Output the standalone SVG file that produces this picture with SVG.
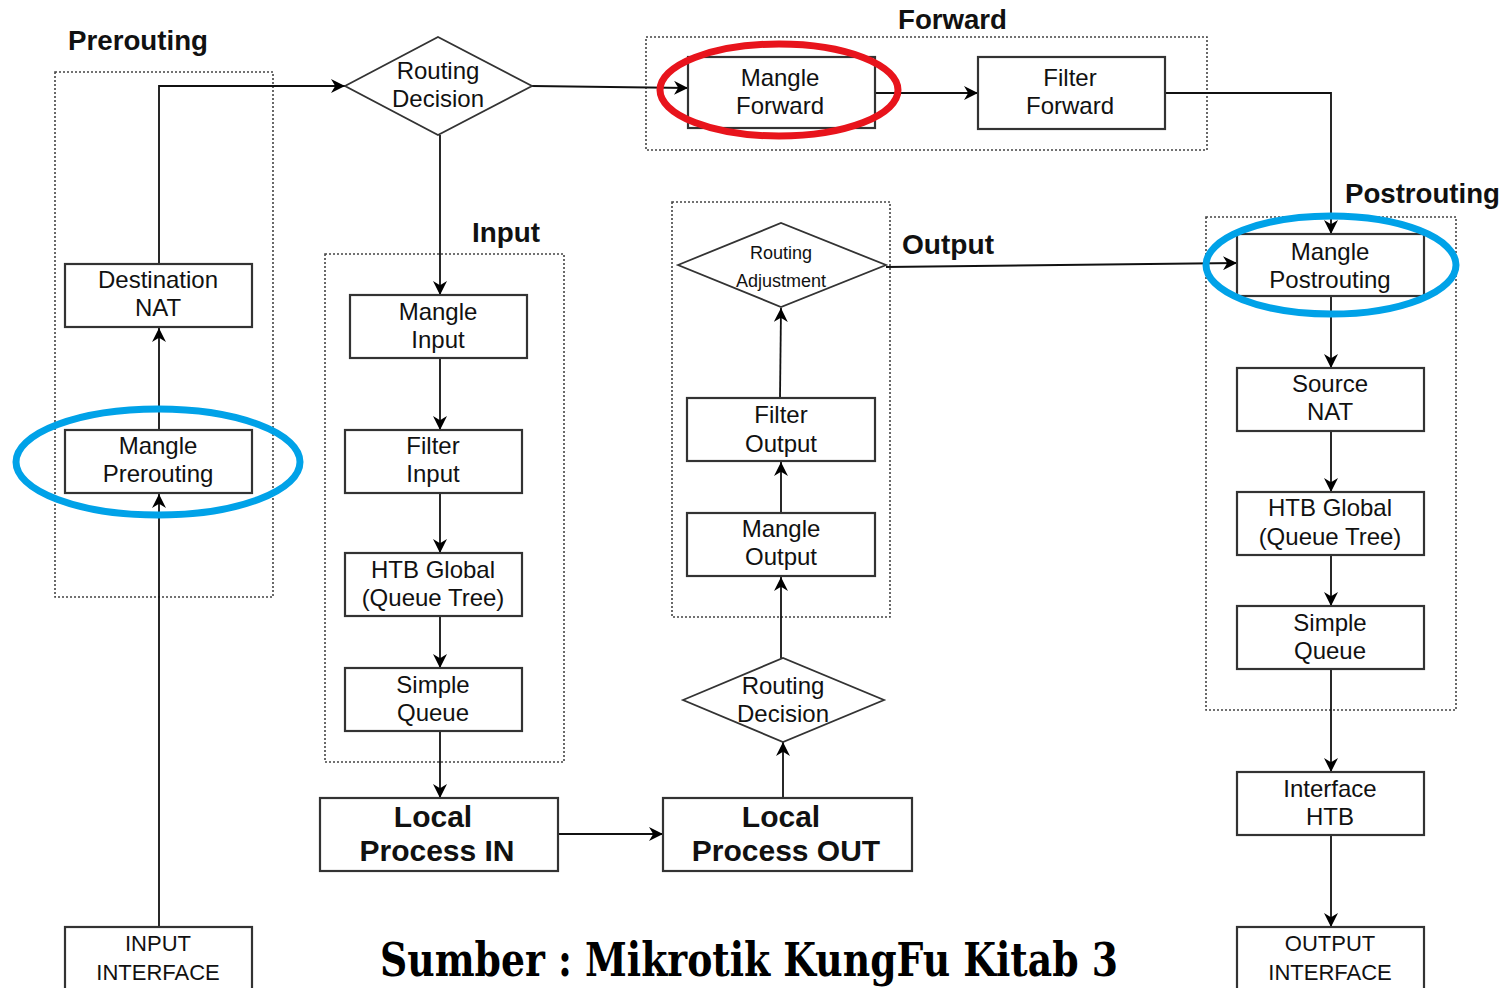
<svg xmlns="http://www.w3.org/2000/svg" width="1509" height="988" viewBox="0 0 1509 988">
<defs>
<marker id="ah" viewBox="0 0 10 10" refX="10" refY="5" markerWidth="14" markerHeight="14" markerUnits="userSpaceOnUse" orient="auto">
<path d="M0,0 L10,5 L0,10 L3,5 z" fill="#000"/>
</marker>
<style>
.box{fill:#fff;stroke:#333;stroke-width:2.2}
.dia{fill:#fff;stroke:#333;stroke-width:1.8}
.grp{fill:none;stroke:#444;stroke-width:1.6;stroke-dasharray:2,2}
.t{font-family:"Liberation Sans",Arial,sans-serif;font-size:24px;fill:#111;text-anchor:middle}
.s{font-size:22px}
.big{font-family:"Liberation Sans",Arial,sans-serif;font-size:30px;font-weight:bold;fill:#111;text-anchor:middle}
.lbl{font-family:"Liberation Sans",Arial,sans-serif;font-size:27px;font-weight:bold;fill:#111}
.c{fill:none;stroke:#111;stroke-width:1.8;marker-end:url(#ah)}
.blue{fill:none;stroke:#00a2e8;stroke-width:7}
.red{fill:none;stroke:#e8141c;stroke-width:7}
</style>
</defs>
<rect width="1509" height="988" fill="#fff"/>

<g id="groups">
<rect class="grp" x="55" y="72" width="218" height="525"/>
<rect class="grp" x="646" y="37" width="561" height="113"/>
<rect class="grp" x="325" y="254" width="239" height="508"/>
<rect class="grp" x="672" y="202" width="218" height="415"/>
<rect class="grp" x="1206" y="217" width="250" height="493"/>
<text class="lbl" x="68" y="50" textLength="140" lengthAdjust="spacingAndGlyphs">Prerouting</text>
<text class="lbl" x="898" y="29" textLength="109" lengthAdjust="spacingAndGlyphs">Forward</text>
<text class="lbl" x="472" y="242" textLength="68" lengthAdjust="spacingAndGlyphs">Input</text>
<text class="lbl" x="902" y="254" textLength="92" lengthAdjust="spacingAndGlyphs">Output</text>
<text class="lbl" x="1345" y="203" textLength="155" lengthAdjust="spacingAndGlyphs">Postrouting</text>
</g>

<g id="connectors">
<path class="c" d="M159,927 L159,494"/>
<path class="c" d="M159,430 L159,328"/>
<path class="c" d="M159,264 L159,86 L345,86"/>
<path class="c" d="M532,86 L688,88"/>
<path class="c" d="M440,135 L440,295"/>
<path class="c" d="M875,93 L978,93"/>
<path class="c" d="M1165,93 L1331,93 L1331,234"/>
<path class="c" d="M440,358 L440,430"/>
<path class="c" d="M440,493 L440,553"/>
<path class="c" d="M440,616 L440,668"/>
<path class="c" d="M440,731 L440,798"/>
<path class="c" d="M558,834 L663,834"/>
<path class="c" d="M783,798 L783,742"/>
<path class="c" d="M781,658 L781,577"/>
<path class="c" d="M781,513 L781,462"/>
<path class="c" d="M780,398 L781,308"/>
<path class="c" d="M886,267 L1237,263"/>
<path class="c" d="M1331,296 L1331,368"/>
<path class="c" d="M1331,431 L1331,492"/>
<path class="c" d="M1331,555 L1331,606"/>
<path class="c" d="M1331,669 L1331,772"/>
<path class="c" d="M1331,835 L1331,927"/>
</g>

<g id="n-dnat"><rect class="box" x="65" y="264" width="187" height="63"/><text class="t" x="158" y="288">Destination</text><text class="t" x="158" y="316">NAT</text></g>
<g id="n-mpre"><rect class="box" x="65" y="430" width="187" height="63"/><text class="t" x="158" y="454">Mangle</text><text class="t" x="158" y="482">Prerouting</text></g>
<g id="n-inif"><rect class="box" x="65" y="927" width="187" height="70"/><text class="t s" x="158" y="951">INPUT</text><text class="t s" x="158" y="980">INTERFACE</text></g>

<g id="n-rd1"><polygon class="dia" points="345,86 438,37 532,86 438,135"/><text class="t" x="438" y="79">Routing</text><text class="t" x="438" y="107">Decision</text></g>

<g id="n-mfwd"><rect class="box" x="688" y="57" width="187" height="71"/><text class="t" x="780" y="86">Mangle</text><text class="t" x="780" y="114">Forward</text></g>
<g id="n-ffwd"><rect class="box" x="978" y="57" width="187" height="72"/><text class="t" x="1070" y="86">Filter</text><text class="t" x="1070" y="114">Forward</text></g>

<g id="n-min"><rect class="box" x="350" y="295" width="177" height="63"/><text class="t" x="438" y="320">Mangle</text><text class="t" x="438" y="348">Input</text></g>
<g id="n-fin"><rect class="box" x="345" y="430" width="177" height="63"/><text class="t" x="433" y="454">Filter</text><text class="t" x="433" y="482">Input</text></g>
<g id="n-htb1"><rect class="box" x="345" y="553" width="177" height="63"/><text class="t" x="433" y="578">HTB Global</text><text class="t" x="433" y="606">(Queue Tree)</text></g>
<g id="n-sq1"><rect class="box" x="345" y="668" width="177" height="63"/><text class="t" x="433" y="693">Simple</text><text class="t" x="433" y="721">Queue</text></g>
<g id="n-lpin"><rect class="box" x="320" y="798" width="238" height="73"/><text class="big" x="433" y="827">Local</text><text class="big" x="437" y="861">Process IN</text></g>
<g id="n-lpout"><rect class="box" x="663" y="798" width="249" height="73"/><text class="big" x="781" y="827">Local</text><text class="big" x="786" y="861">Process OUT</text></g>

<g id="n-radj"><polygon class="dia" points="678,265 781,223 886,265 781,307"/><text class="t" x="781" y="259" style="font-size:18px">Routing</text><text class="t" x="781" y="287" style="font-size:18px">Adjustment</text></g>
<g id="n-fout"><rect class="box" x="687" y="398" width="188" height="63"/><text class="t" x="781" y="423">Filter</text><text class="t" x="781" y="452">Output</text></g>
<g id="n-mout"><rect class="box" x="687" y="513" width="188" height="63"/><text class="t" x="781" y="537">Mangle</text><text class="t" x="781" y="565">Output</text></g>
<g id="n-rd2"><polygon class="dia" points="683,700 783,658 884,700 783,742"/><text class="t" x="783" y="694">Routing</text><text class="t" x="783" y="722">Decision</text></g>

<g id="n-mpost"><rect class="box" x="1237" y="234" width="187" height="62"/><text class="t" x="1330" y="260">Mangle</text><text class="t" x="1330" y="288">Postrouting</text></g>
<g id="n-snat"><rect class="box" x="1237" y="368" width="187" height="63"/><text class="t" x="1330" y="392">Source</text><text class="t" x="1330" y="420">NAT</text></g>
<g id="n-htb2"><rect class="box" x="1237" y="492" width="187" height="63"/><text class="t" x="1330" y="516">HTB Global</text><text class="t" x="1330" y="545">(Queue Tree)</text></g>
<g id="n-sq2"><rect class="box" x="1237" y="606" width="187" height="63"/><text class="t" x="1330" y="631">Simple</text><text class="t" x="1330" y="659">Queue</text></g>
<g id="n-ihtb"><rect class="box" x="1237" y="772" width="187" height="63"/><text class="t" x="1330" y="797">Interface</text><text class="t" x="1330" y="825">HTB</text></g>
<g id="n-outif"><rect class="box" x="1237" y="927" width="187" height="70"/><text class="t s" x="1330" y="951">OUTPUT</text><text class="t s" x="1330" y="980">INTERFACE</text></g>

<g id="highlights">
<ellipse class="blue" cx="158" cy="462" rx="142" ry="53"/>
<ellipse class="red" cx="779" cy="90" rx="119" ry="46"/>
<ellipse class="blue" cx="1331" cy="265" rx="125" ry="49"/>
</g>

<text x="380" y="976" textLength="738" lengthAdjust="spacingAndGlyphs" style="font-family:'DejaVu Serif','Liberation Serif',serif;font-size:46px;font-weight:bold;fill:#000">Sumber : Mikrotik KungFu Kitab 3</text>
</svg>
